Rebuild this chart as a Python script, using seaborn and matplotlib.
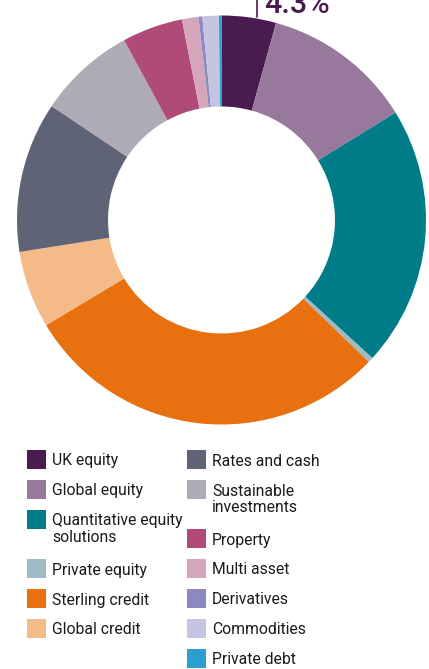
import matplotlib
matplotlib.use('Agg')
from matplotlib import pyplot as plt
from matplotlib.patches import Rectangle
import seaborn as sns

# Asset allocation (% of fund), clockwise from 12 o'clock
labels = ['UK equity', 'Global equity', 'Quantitative equity\nsolutions',
          'Private equity', 'Sterling credit', 'Global credit',
          'Rates and cash', 'Sustainable\ninvestments', 'Property',
          'Multi asset', 'Derivatives', 'Commodities', 'Private debt']
shares = [4.3, 11.9, 20.6, 0.4, 29.2, 6.1, 11.9, 7.7, 4.8, 1.3, 0.3, 1.3, 0.2]
colours = ['#4a1b4f', '#977a9b', '#007c89', '#9dbbc3', '#e8700e', '#f4ba88',
           '#5e6376', '#aeaab6', '#b04a78', '#d5a5ba', '#8c88c0', '#c6c4e3',
           '#2c9fd1']
callout = '4.3%'

sns.set_theme(style='white')
plt.rcParams['font.family'] = ['Roboto', 'DejaVu Sans']

W, H = 429, 669
fig = plt.figure(figsize=(W / 100, H / 100), dpi=100)
fig.patch.set_facecolor('white')

# donut: centre (221.5, 220) px, outer radius 204.5 px
ax = fig.add_axes([17 / W, 1 - 424.5 / H, 409 / W, 409 / H])
ax.pie(shares, colors=colours, startangle=90, counterclock=False,
       radius=1, wedgeprops=dict(width=0.445, linewidth=0))
ax.set_xlim(-1, 1)
ax.set_ylim(-1, 1)
ax.axis('off')

# callout for UK equity (cut off at the top, as in the source)
fig.add_artist(plt.Line2D([257 / W, 257 / W], [1 - 17 / H, 1.0],
                          color='#4a1b4f', lw=1.2))
fig.text(264 / W, 1 - 13 / H, callout, fontsize=22, fontweight='medium',
         color='#4a1b4f', va='baseline', ha='left')

# legend, two columns
def legend_column(items, x_sq, y_top):
    y = y_top
    for lab, col in items:
        fig.add_artist(Rectangle((x_sq / W, 1 - (y + 19) / H), 19 / W, 19 / H,
                                 facecolor=col, edgecolor='none',
                                 transform=fig.transFigure))
        lines = lab.split('\n')
        for i, line in enumerate(lines):
            fig.text((x_sq + 25) / W, 1 - (y + 15.5 + 16 * i) / H, line,
                     fontsize=11.3, color='#1a1a1a', va='baseline', ha='left')
        y += 30 + 19 * (len(lines) - 1)

pairs = list(zip(labels, colours))
legend_column(pairs[:6], 27, 450)
legend_column(pairs[6:], 187, 450)

fig.savefig('out.png', dpi=100)
